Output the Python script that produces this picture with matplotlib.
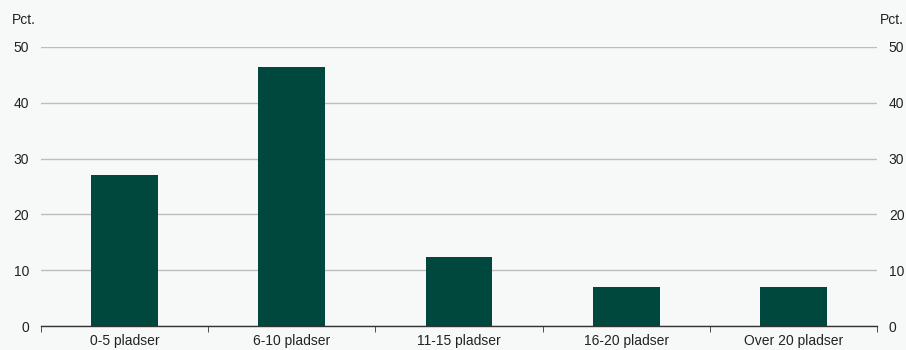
import numpy as np
import matplotlib.pyplot as plt

categories = ['0-5 pladser', '6-10 pladser', '11-15 pladser', '16-20 pladser', 'Over 20 pladser']
values = [27.0, 46.5, 12.3, 7.0, 7.0]
yticks = [0, 10, 20, 30, 40, 50]

bg = '#F7F9F9'
bar_color = '#00473E'

plt.rcParams['font.family'] = ['Liberation Sans', 'DejaVu Sans']

fig = plt.figure(figsize=(9.06, 3.5), dpi=100, facecolor=bg)
ax = fig.add_axes([41 / 906, 1 - 326 / 350, 836 / 906, 279 / 350])
ax.set_facecolor(bg)

x = np.arange(len(categories))
ax.bar(x, values, width=0.4, color=bar_color, zorder=3)

ax.set_xlim(-0.5, len(categories) - 0.5)
ax.set_ylim(0, 50)
ax.set_yticks(yticks)
ax.set_yticklabels([str(t) for t in yticks], fontsize=10, color='#222222')
ax.tick_params(axis='y', length=0, pad=8.5)
ax.grid(axis='y', color='#BDBDBD', linewidth=1, zorder=0)

ax.set_xticks(x)
ax.set_xticklabels(categories, fontsize=10, color='#222222')
ax.set_xticks(np.arange(-0.5, len(categories)), minor=True)
ax.tick_params(axis='x', which='major', length=0, pad=6)
ax.tick_params(axis='x', which='minor', length=4, direction='out', color='#333333')

for s in ['top', 'left', 'right']:
    ax.spines[s].set_visible(False)
ax.spines['bottom'].set_color('#333333')
ax.spines['bottom'].set_linewidth(1)

ax2 = ax.twinx()
ax2.set_ylim(0, 50)
ax2.set_yticks(yticks)
ax2.set_yticklabels([str(t) for t in yticks], fontsize=10, color='#222222')
ax2.tick_params(axis='y', length=0, pad=8.5)
for s in ['top', 'left', 'right', 'bottom']:
    ax2.spines[s].set_visible(False)

fig.text(12 / 906, 1 - 20 / 350, 'Pct.', fontsize=10, color='#222222', va='center', ha='left')
fig.text(904 / 906, 1 - 20 / 350, 'Pct.', fontsize=10, color='#222222', va='center', ha='right')

fig.savefig('out.png', dpi=100, facecolor=bg)
